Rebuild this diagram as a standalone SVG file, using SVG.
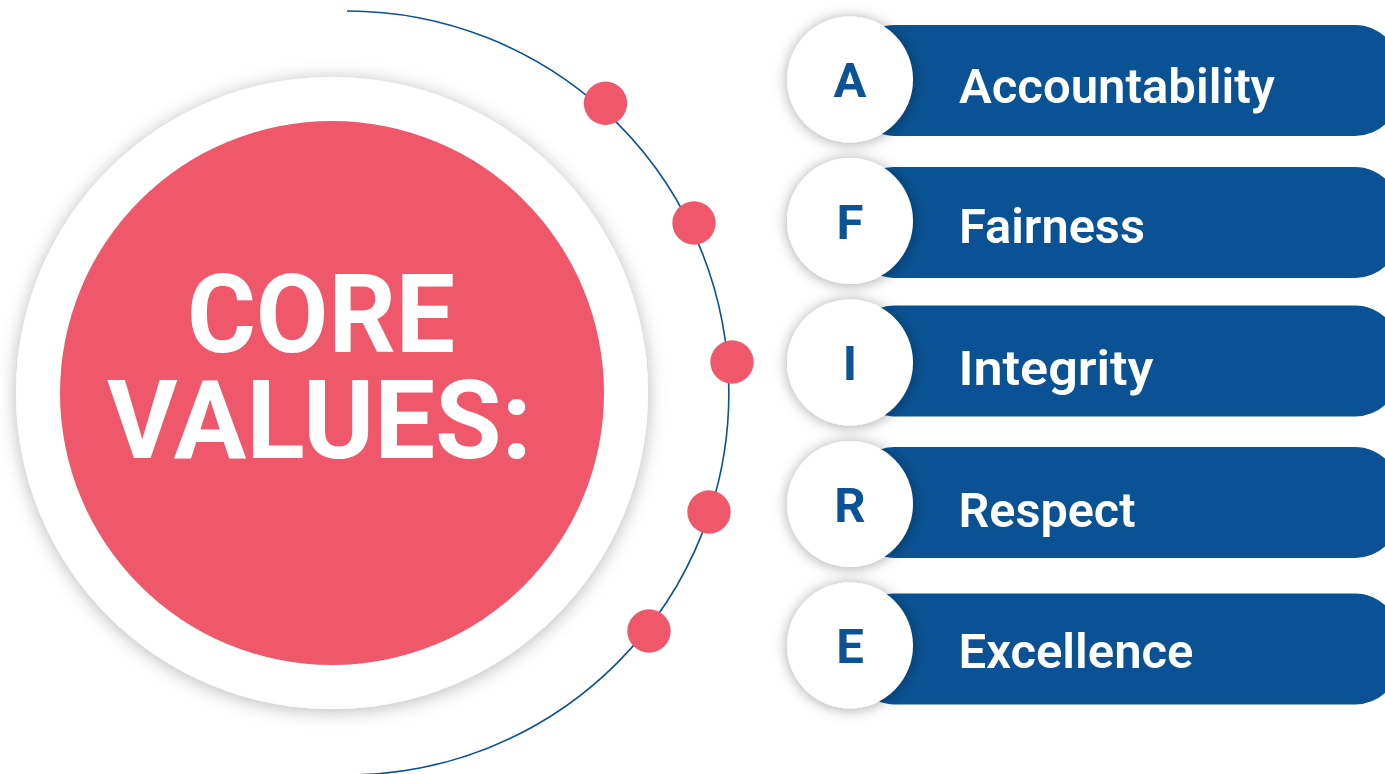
<svg xmlns="http://www.w3.org/2000/svg" width="1385" height="774" viewBox="0 0 1385 774">
  <defs>
    <filter id="softShadow" x="-20%" y="-20%" width="140%" height="140%">
      <feDropShadow dx="0" dy="2" stdDeviation="9" flood-color="#000" flood-opacity="0.28"/>
    </filter>
    <filter id="badgeShadow" x="-40%" y="-40%" width="180%" height="180%">
      <feDropShadow dx="0" dy="1" stdDeviation="7" flood-color="#000" flood-opacity="0.35"/>
    </filter>
    <style>
      .bar { fill: #0A5293; }
      .badge { fill: #ffffff; filter: url(#badgeShadow); }
      .dot { fill: #EF586B; }
      .letter { font-family: Roboto, "Liberation Sans", sans-serif; font-weight: 700; font-size: 49px; fill: #0B5394; text-anchor: middle; }
      .label { font-family: Roboto, "Liberation Sans", sans-serif; font-weight: 600; font-size: 49px; fill: #ffffff; }
      .title { font-family: Roboto, "Liberation Sans", sans-serif; font-weight: 700; font-size: 110px; fill: #ffffff; }
    </style>
  </defs>
  <rect width="1385" height="774" fill="#ffffff"/>

  <!-- central medallion -->
  <g id="core">
    <circle cx="332" cy="393" r="316" fill="#ffffff" filter="url(#softShadow)"/>
    <circle cx="332" cy="393" r="272" fill="#EF586B"/>
    <text class="title" x="187" y="351.5" textLength="268" lengthAdjust="spacingAndGlyphs">CORE</text>
    <text class="title" x="107" y="458" textLength="425" lengthAdjust="spacingAndGlyphs">VALUES:</text>
  </g>

  <!-- orbit line with markers -->
  <g id="connectors">
    <path d="M 347 11 A 382 382 0 0 1 347 775" fill="none" stroke="#0A5293" stroke-width="1.6"/>
    <circle class="dot" cx="605.5" cy="103.3" r="21.7"/>
    <circle class="dot" cx="694" cy="223" r="21.7"/>
    <circle class="dot" cx="732" cy="362" r="21.7"/>
    <circle class="dot" cx="709" cy="512" r="21.7"/>
    <circle class="dot" cx="649" cy="631" r="21.7"/>
  </g>

  <g id="value-a">
    <rect class="bar" x="850" y="25" width="550" height="111" rx="45"/>
    <circle class="badge" cx="850" cy="79.5" r="63"/>
    <text class="letter" x="850" y="97">A</text>
    <text class="label" x="959" y="102.5" textLength="316" lengthAdjust="spacingAndGlyphs">Accountability</text>
  </g>

  <g id="value-f">
    <rect class="bar" x="850" y="167" width="550" height="111" rx="45"/>
    <circle class="badge" cx="850" cy="221" r="63"/>
    <text class="letter" x="850" y="238.5">F</text>
    <text class="label" x="959" y="243.3" textLength="186" lengthAdjust="spacingAndGlyphs">Fairness</text>
  </g>

  <g id="value-i">
    <rect class="bar" x="850" y="305.5" width="550" height="111" rx="45"/>
    <circle class="badge" cx="850" cy="362.5" r="63"/>
    <text class="letter" x="850" y="380">I</text>
    <text class="label" x="958.5" y="385" textLength="195" lengthAdjust="spacingAndGlyphs">Integrity</text>
  </g>

  <g id="value-r">
    <rect class="bar" x="850" y="447" width="550" height="111" rx="45"/>
    <circle class="badge" cx="850" cy="504" r="63"/>
    <text class="letter" x="850" y="521.5">R</text>
    <text class="label" x="958.5" y="526.7" textLength="177" lengthAdjust="spacingAndGlyphs">Respect</text>
  </g>

  <g id="value-e">
    <rect class="bar" x="850" y="593.5" width="550" height="111" rx="45"/>
    <circle class="badge" cx="850" cy="645.5" r="63"/>
    <text class="letter" x="850" y="663">E</text>
    <text class="label" x="958.5" y="668" textLength="235" lengthAdjust="spacingAndGlyphs">Excellence</text>
  </g>
</svg>
